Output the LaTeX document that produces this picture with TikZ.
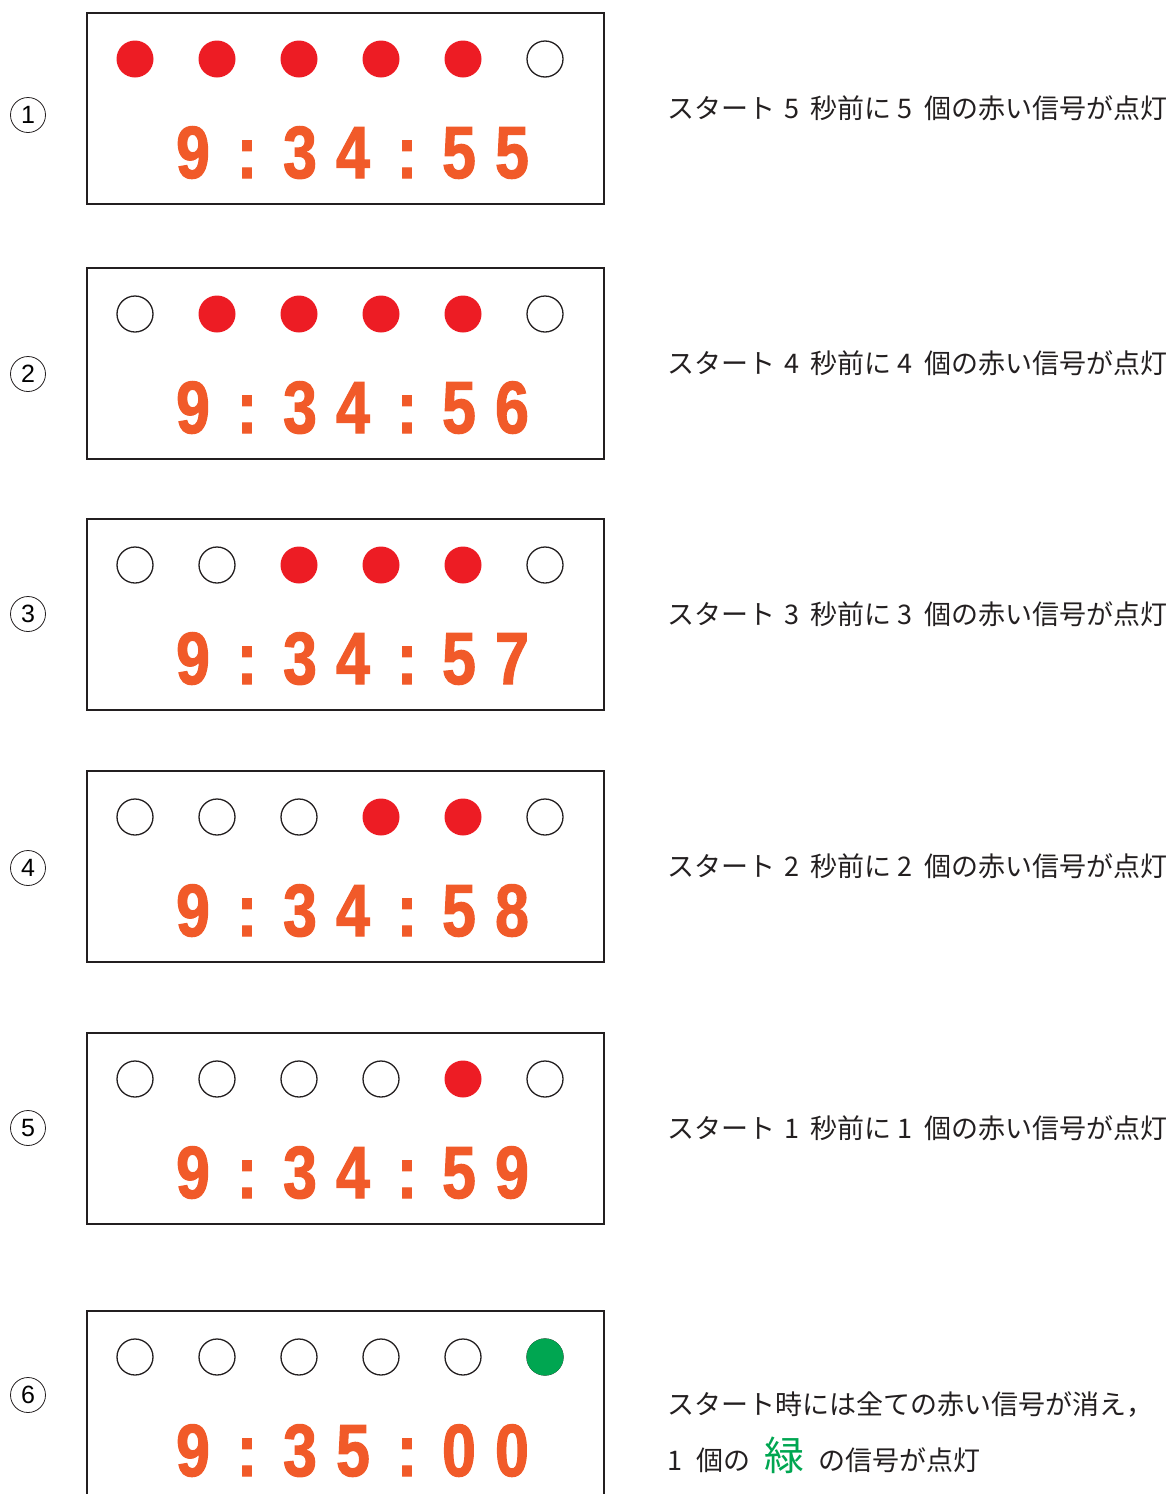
\documentclass[tikz,border=0pt]{standalone}
\usepackage{fontspec}
\setmainfont{Liberation Sans}
\newfontfamily\jpfont{Noto Sans CJK JP}
\newfontfamily\clockfont{Liberation Sans}[FakeStretch=0.82, FakeBold=1.6]
\usetikzlibrary{positioning}
\definecolor{signalred}{HTML}{ED1C24}
\definecolor{signalgreen}{HTML}{00A651}
\definecolor{clockorange}{HTML}{F15A29}
\definecolor{inkdark}{HTML}{231F20}

\tikzset{
    panel/.style={draw=inkdark, line width=2.4pt},
    lampring/.style={draw=inkdark, line width=1.3pt, fill=white},
    numring/.style={circle, draw=inkdark, line width=0.8pt, minimum size=35pt, inner sep=0pt, font=\fontsize{25}{25}\selectfont},
    digit/.style={anchor=base, text=clockorange, inner sep=0pt, font=\clockfont\bfseries\fontsize{74}{74}\selectfont},
    caption/.style={anchor=west, inner sep=0pt, text=inkdark, font=\jpfont\fontsize{27}{27}\selectfont}
}

\begin{document}
\begin{tikzpicture}[x=1pt, y=-1pt]
    \useasboundingbox (0,0) rectangle (1173,1494);

    % Panels, lamps, clock and step numbers
    \foreach \top/\ny/\row/\a/\b/\c/\d in {13/115/1/3/4/5/5, 268/374/2/3/4/5/6, 519/614/3/3/4/5/7, 771/868/4/3/4/5/8, 1033/1128/5/3/4/5/9, 1311/1395/6/3/5/0/0} {
        \draw[panel] (87,\top) rectangle (604,\top+191);

        % lamps (lit red ones have no ring)
        \foreach \i in {1,...,6} {
            \pgfmathtruncatemacro{\lit}{(\i>=\row)&&(\i<6)}
            \ifnum\lit=1
                \fill[signalred] (53+82*\i,\top+46) circle (18.5);
            \else
                \draw[lampring] (53+82*\i,\top+46) circle (18);
            \fi
        }

        % step number
        \node[numring] (num\row) at (28,\ny) {\row};

        % clock digits
        \node[digit] (h\row)  at (193,\top+165) {9};
        \node[digit] (ca\row) at (247,\top+165) {:};
        \node[digit] (ma\row) at (300,\top+165) {\a};
        \node[digit] (mb\row) at (353,\top+165) {\b};
        \node[digit] (cb\row) at (407,\top+165) {:};
        \node[digit] (sa\row) at (459,\top+165) {\c};
        \node[digit] (sb\row) at (512,\top+165) {\d};
    }

    % Green start lamp
    \fill[signalgreen] (545,1357) circle (18.5);

    % Countdown captions
    \foreach \top/\row in {13/1, 268/2, 519/3, 771/4, 1033/5} {
        \pgfmathtruncatemacro{\k}{6-\row}
        \node[caption] (cap\row) at (667,\top+95) {スタート\hspace{9pt}\k\hspace{11pt}秒前に\hspace{6pt}\k\hspace{12pt}個の赤い信号が点灯};
    }

    % Start caption
    \node[caption] (cap6) at (667,1405) {スタート時には全ての赤い信号が消え，};
    \node[caption, anchor=base west] (cap7) at (667,1470) {1\hspace{14pt}個の\hspace{14pt}{\color{signalgreen}\fontsize{40}{40}\selectfont 緑}\hspace{14pt}の信号が点灯};
\end{tikzpicture}
\end{document}
